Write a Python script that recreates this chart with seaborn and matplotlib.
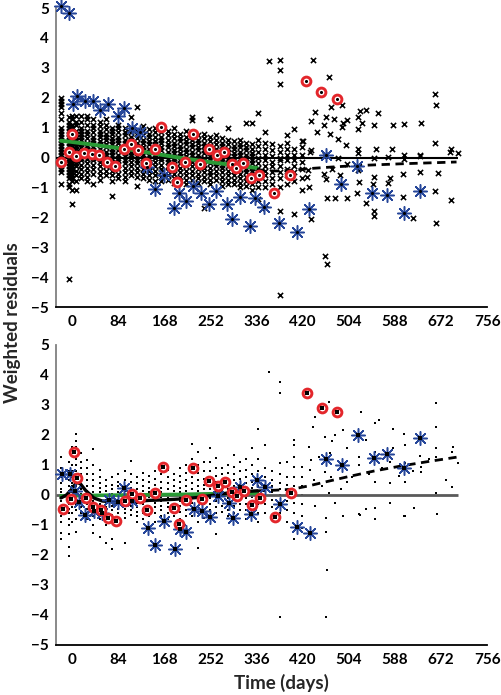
import pandas as pd
import seaborn as sns
import matplotlib
import matplotlib.pyplot as plt

sns.set_style('white')
matplotlib.rcParams['font.family'] = ['Lato', 'DejaVu Sans']
matplotlib.rcParams['font.weight'] = 'bold'
matplotlib.rcParams['font.size'] = 11

# ---- top panel: observations by visit column (days, residuals) ----
top_visit_days = [-19, -5, 1, 8, 17, 28, 39, 51, 62, 73, 84, 96, 107, 118, 129, 140, 151, 163,
                  174, 185, 196, 207, 218, 229, 240, 251, 262, 273, 284, 295, 306, 317, 328,
                  339, 352, 365, 378, 391, 404, 418]
top_visit_res = [
    "2.0 1.9 1.8 1.7 1.5 1.3 1.0 0.9 0.8 0.7 0.6 0.5 0.4 0.3 0.2 0.1 0.0 -0.1 -0.2 -0.3 -0.4 -0.5 -0.9",
    "1.35 1.2 1.1 1.0 0.9 0.8 0.7 0.6 0.5 0.4 0.3 0.2 0.1 0.0 -0.1 -0.2 -0.3 -0.4 -0.5 -0.6 -0.7 -0.9 -1.0 -4.05",
    "1.4 1.3 1.1 1.0 0.9 0.8 0.7 0.6 0.5 0.4 0.3 0.2 0.1 0.0 -0.1 -0.2 -0.3 -0.4 -0.5 -0.6 -0.7 -0.8 -1.1 -1.55",
    "1.4 1.2 1.1 0.9 0.8 0.7 0.6 0.5 0.4 0.3 0.2 0.1 0.0 -0.1 -0.2 -0.3 -0.45 -0.6 -0.8 -1.1",
    "1.4 1.2 1.0 0.9 0.8 0.7 0.6 0.45 0.35 0.2 0.1 0.0 -0.1 -0.25 -0.4 -0.55 -0.7",
    "1.4 1.3 1.1 0.9 0.8 0.65 0.5 0.4 0.3 0.2 0.05 -0.05 -0.2 -0.35 -0.5 -0.65 -0.8",
    "1.3 1.1 1.0 0.85 0.7 0.6 0.5 0.35 0.25 0.1 0.0 -0.1 -0.25 -0.4 -0.55 -0.9",
    "1.2 1.05 0.9 0.8 0.7 0.55 0.45 0.3 0.2 0.1 -0.05 -0.15 -0.3 -0.45 -0.6 -0.75",
    "1.3 1.1 0.95 0.8 0.7 0.6 0.45 0.35 0.2 0.1 0.0 -0.15 -0.3 -0.45 -0.6",
    "1.0 0.9 0.8 0.65 0.55 0.45 0.3 0.2 0.1 -0.05 -0.15 -0.3 -0.45 -0.6 -0.8 -1.3",
    "1.1 1.0 0.85 0.7 0.6 0.5 0.35 0.25 0.1 0.0 -0.1 -0.25 -0.4 -0.55 -0.7",
    "1.0 0.85 0.75 0.6 0.5 0.4 0.3 0.15 0.05 -0.1 -0.2 -0.35 -0.5 -0.65 -0.8",
    "1.35 1.0 0.85 0.7 0.6 0.45 0.35 0.2 0.1 0.0 -0.15 -0.3 -0.45 -0.6",
    "1.7 0.9 0.8 0.65 0.5 0.4 0.3 0.15 0.05 -0.1 -0.2 -0.35 -0.5 -0.65 -0.95",
    "1.05 0.9 0.75 0.6 0.5 0.35 0.25 0.1 0.0 -0.15 -0.25 -0.4 -0.55 -0.7",
    "0.95 0.8 0.7 0.55 0.45 0.3 0.2 0.1 -0.05 -0.15 -0.3 -0.45 -0.6 -0.75",
    "1.0 0.85 0.7 0.55 0.45 0.35 0.2 0.1 0.0 -0.15 -0.3 -0.45 -0.6 -0.8",
    "0.85 0.7 0.6 0.5 0.35 0.25 0.1 0.0 -0.1 -0.25 -0.4 -0.5 -0.65 -0.8",
    "0.9 0.75 0.6 0.45 0.35 0.2 0.1 -0.05 -0.15 -0.3 -0.45 -0.6 -0.75",
    "1.0 0.8 0.65 0.5 0.4 0.25 0.15 0.0 -0.1 -0.25 -0.4 -0.55 -0.7 -0.85",
    "0.8 0.65 0.55 0.4 0.3 0.15 0.05 -0.1 -0.2 -0.35 -0.5 -0.65 -0.8",
    "0.9 0.7 0.55 0.45 0.3 0.2 0.05 -0.05 -0.2 -0.3 -0.45 -0.6 -0.75 -0.9",
    "1.35 1.25 0.7 0.6 0.45 0.35 0.2 0.1 -0.05 -0.15 -0.3 -0.45 -0.6 -0.75",
    "0.75 0.6 0.5 0.35 0.25 0.1 0.0 -0.15 -0.25 -0.4 -0.55 -0.7 -0.85",
    "0.8 0.65 0.5 0.4 0.25 0.15 0.0 -0.1 -0.25 -0.35 -0.5 -0.65 -0.8 -1.7",
    "1.3 0.7 0.55 0.4 0.3 0.15 0.05 -0.1 -0.2 -0.35 -0.5 -0.6 -0.75 -0.9",
    "0.75 0.6 0.45 0.3 0.2 0.05 -0.05 -0.2 -0.3 -0.45 -0.6 -0.75",
    "0.65 0.5 0.4 0.25 0.15 0.0 -0.1 -0.25 -0.35 -0.5 -0.65 -0.8 -0.95",
    "1.0 0.6 0.45 0.3 0.2 0.05 -0.05 -0.2 -0.3 -0.45 -0.6 -0.75 -0.9",
    "0.55 0.4 0.3 0.15 0.05 -0.1 -0.2 -0.35 -0.45 -0.6 -0.75 -0.9",
    "0.6 0.45 0.35 0.2 0.1 -0.05 -0.15 -0.3 -0.4 -0.55 -0.7 -0.85 -1.0",
    "1.15 0.5 0.35 0.25 0.1 0.0 -0.15 -0.25 -0.4 -0.5 -0.65 -0.8 -0.95",
    "1.15 0.45 0.3 0.15 0.05 -0.1 -0.2 -0.35 -0.45 -0.6 -0.75 -0.9 -1.1",
    "1.5 0.6 0.4 0.2 0.0 -0.2 -0.35 -0.5 -0.65 -0.8 -1.0 -1.4",
    "0.85 0.5 0.3 0.1 -0.1 -0.3 -0.45 -0.6 -0.8 -1.0 -1.7",
    "0.45 0.25 0.05 -0.15 -0.3 -0.5 -0.7 -0.9",
    "3.25 2.93 2.45 0.4 0.2 0.0 -0.1 -0.3 -0.5 -0.7 -1.0 -1.8 -4.6",
    "0.75 0.5 0.3 0.1 -0.1 -0.4 -0.6 -0.9",
    "0.95 0.3 0.1 -0.1 -0.3 -0.5 -0.8 -1.9",
    "0.55 0.35 0.1 -0.15 -0.4 -0.7 -1.1",
]
# later, sparse observations
top_late_days = [358, 438, 468, 443, 471, 492, 525, 535, 557, 661, 662, 435, 463, 477, 493, 500,
                 520, 528, 549, 584, 605, 635, 446, 470, 485, 459, 491, 520, 420, 435, 499, 520,
                 554, 583, 605, 634, 661, 690, 702, 434, 461, 485, 520, 549, 576, 605, 634, 688,
                 428, 459, 473, 500, 520, 549, 578, 603, 667, 430, 463, 488, 548, 576, 634, 435,
                 464, 478, 500, 518, 535, 549, 549, 603, 620, 660, 663, 690, 461, 464, 432, 522]
top_late_res = [3.23, 3.27, 2.69, 1.53, 1.7, 1.75, 1.56, 1.6, 1.48, 2.13, 1.75, 1.23, 1.37, 1.28,
                1.14, 1.26, 1.35, 1.14, 1.1, 1.1, 1.12, 1.16, 0.85, 0.79, 0.61, 1.08, 1.02, 0.95,
                0.55, 0.25, 0.42, 0.27, 0.27, 0.3, 0.08, 0.05, 0.5, 0.27, 0.14, 0.2, 0.08, 0.0,
                0.15, -0.02, 0.03, -0.06, 0.08, 0.2, -0.65, -0.56, -0.37, -0.21, -0.43, -0.65,
                -0.7, -0.56, -0.51, -0.43, -0.73, -0.59, -0.87, -0.85, -0.48, -2.07, -1.37, -1.37,
                -1.35, -1.2, -1.51, -1.78, -1.96, -1.33, -2.01, -1.12, -2.18, -1.41, -3.3, -3.57,
                -0.98, -0.82]
top_red_days = [-19, -5, 1, 8, 22, 36, 50, 64, 78, 95, 107, 121, 135, 151, 163, 183, 192, 206,
                220, 234, 249, 264, 277, 292, 298, 312, 326, 341, 368, 397, 426, 453, 482]
top_red_res = [-0.15, 0.17, 0.79, 0.06, 0.14, 0.12, 0.08, -0.16, -0.27, 0.27, 0.45, 0.25, -0.18,
               0.27, 1.03, -0.31, -0.82, -0.15, 0.78, -0.22, 0.28, 0.09, 0.17, -0.22, -0.36,
               -0.2, -0.7, -0.57, -1.2, -0.59, 2.57, 2.2, 1.95]
top_blue_days = [-20, -5, 2, 10, 24, 39, 51, 65, 83, 95, 109, 123, 136, 151, 168, 185, 194, 207,
                 221, 235, 250, 263, 283, 292, 306, 324, 333, 349, 376, 409, 432, 463, 489, 518,
                 547, 573, 604, 634]
top_blue_res = [5.08, 4.83, 1.78, 2.06, 1.89, 1.89, 1.58, 1.79, 1.39, 1.65, 1.0, 0.84, -0.33,
                -1.04, -0.59, -1.7, -1.2, -1.45, -0.95, -1.2, -1.57, -1.12, -1.56, -2.07, -1.32,
                -2.3, -1.37, -1.67, -2.18, -2.5, -1.73, 0.07, -0.87, -0.29, -1.2, -1.26, -1.84,
                -1.12]
top_green_days = [-20, 0, 50, 100, 150, 200, 250, 300, 337]
top_green_res = [0.56, 0.52, 0.40, 0.28, 0.13, -0.02, -0.15, -0.27, -0.35]
top_dash_days = [337, 350, 380, 410, 440, 480, 520, 560, 600, 650, 700]
top_dash_res = [-0.38, -0.45, -0.45, -0.41, -0.36, -0.31, -0.27, -0.24, -0.21, -0.18, -0.15]

# ---- bottom panel ----
bot_visit_days = top_visit_days
bot_visit_res = [
    "1.28 0.9 0.6 0.4 0.2 0.1 0.0 -0.1 -0.2 -0.35 -0.5 -0.7 -0.9 -1.26 -1.48",
    "1.1 0.8 0.5 0.3 0.15 0.05 -0.05 -0.15 -0.3 -0.45 -0.6 -0.8 -1.0 -1.3 -1.72 -2.03",
    "1.6 1.3 1.0 0.8 0.6 0.4 0.3 0.2 0.1 0.0 -0.1 -0.25 -0.4 -0.6 -0.9",
    "2.03 1.81 1.61 1.4 1.2 1.0 0.8 0.6 0.45 0.3 0.15 0.0 -0.15 -0.3 -0.5 -0.8 -1.24",
    "1.4 1.1 0.9 0.7 0.5 0.35 0.2 0.05 -0.1 -0.25 -0.4 -0.6",
    "1.17 0.9 0.7 0.5 0.3 0.15 0.0 -0.15 -0.3 -0.45 -0.6 -0.8",
    "1.52 1.0 0.7 0.5 0.3 0.1 -0.05 -0.2 -0.35 -0.5 -0.7 -1.0 -1.26",
    "0.83 0.6 0.4 0.25 0.1 0.0 -0.15 -0.3 -0.45 -0.6 -0.8 -1.39",
    "0.5 0.3 0.15 0.0 -0.15 -0.3 -0.4 -0.55 -0.7 -1.0 -1.59",
    "0.6 0.35 0.2 0.05 -0.1 -0.2 -0.35 -0.5 -0.65 -0.8 -1.48 -1.81",
    "0.7 0.45 0.3 0.1 0.0 -0.15 -0.3 -0.45 -0.6 -0.8",
    "0.8 0.5 0.3 0.15 0.0 -0.15 -0.3 -0.45 -0.6 -0.75 -1.59",
    "1.14 0.7 0.45 0.25 0.1 -0.05 -0.2 -0.35 -0.5 -0.65",
    "0.6 0.4 0.2 0.05 -0.1 -0.25 -0.4 -0.55 -0.7 -0.9",
    "0.75 0.5 0.3 0.15 0.0 -0.15 -0.3 -0.45 -0.6 -0.8",
    "0.65 0.45 0.25 0.1 -0.05 -0.2 -0.35 -0.5 -0.7",
    "0.8 0.55 0.35 0.2 0.05 -0.1 -0.25 -0.4 -0.6 -0.9",
    "1.0 0.7 0.45 0.25 0.1 -0.05 -0.2 -0.35 -0.5 -0.7",
    "0.85 0.6 0.4 0.2 0.05 -0.1 -0.25 -0.4 -0.6 -0.8",
    "0.7 0.5 0.3 0.15 0.0 -0.15 -0.3 -0.5 -0.7",
    "0.9 0.65 0.45 0.25 0.1 -0.05 -0.2 -0.35 -0.55 -0.8",
    "1.0 0.75 0.5 0.3 0.15 0.0 -0.15 -0.3 -0.5 -0.7",
    "1.69 1.2 0.9 0.6 0.4 0.2 0.05 -0.1 -0.25 -0.45 -0.7",
    "1.44 1.0 0.75 0.5 0.3 0.15 0.0 -0.2 -0.4 -0.6 -0.9 -1.78",
    "1.1 0.8 0.55 0.35 0.2 0.05 -0.1 -0.3 -0.5 -0.75",
    "1.56 1.1 0.8 0.55 0.35 0.2 0.05 -0.1 -0.3 -0.5",
    "1.22 0.9 0.65 0.45 0.25 0.1 -0.05 -0.2 -0.4 -0.6 -1.31",
    "0.9 0.7 0.5 0.3 0.15 0.0 -0.15 -0.35 -0.55",
    "1.0 0.75 0.55 0.35 0.2 0.05 -0.1 -0.3 -0.5 -0.7",
    "1.33 0.95 0.7 0.5 0.3 0.15 0.0 -0.15 -0.35 -0.6",
    "1.1 0.8 0.55 0.35 0.2 0.05 -0.1 -0.3 -0.5",
    "1.19 0.85 0.6 0.4 0.2 0.05 -0.1 -0.3 -0.5 -0.8",
    "1.56 1.0 0.7 0.45 0.25 0.1 -0.05 -0.25 -0.45 -0.7",
    "2.19 1.2 0.8 0.5 0.3 0.1 -0.1 -0.3 -0.6 -0.9",
    "1.67 0.9 0.6 0.35 0.15 -0.05 -0.3 -0.6",
    "0.8 0.5 0.3 0.1 -0.15 -0.4 -0.8",
    "3.78 3.39 1.06 0.7 0.4 0.2 0.0 -0.3 -0.6 -4.08",
    "1.11 0.6 0.35 0.1 -0.2 -0.5 -0.9",
    "1.83 1.67 1.28 0.94 0.6 0.3 0.05 -0.25 -0.6 -1.48",
    "0.94 0.6 0.3 0.0 -0.3 -0.7 -1.1",
]
bot_late_days = [359, 468, 443, 438, 526, 551, 558, 662, 663, 584, 605, 432, 460, 473, 479, 493,
                 500, 536, 585, 607, 662, 694, 703, 692, 663, 633, 607, 579, 551, 523, 470, 449,
                 435, 433, 460, 471, 500, 523, 551, 579, 607, 635, 635, 662, 691, 468, 500, 443,
                 463, 479, 494, 523, 536, 551, 551, 579, 607, 622, 664, 463, 463, 465, 525, 605,
                 440, 455, 490, 510, 540, 565, 595, 620, 650, 680]
bot_late_res = [4.11, 3.11, 2.61, 2.28, 2.78, 2.41, 2.5, 3.08, 2.28, 2.19, 2.02, 1.59, 1.92, 1.8,
                2.0, 2.17, 1.56, 1.83, 1.56, 1.67, 1.56, 1.59, 1.08, 1.44, 1.28, 1.3, 1.08, 1.11,
                1.44, 1.28, 1.39, 1.28, 1.17, 0.83, 0.78, 0.61, 0.83, 1.0, 0.44, 0.39, 0.44, 0.94,
                0.78, 0.06, 0.28, 0.08, 0.44, -0.37, -0.78, -0.28, -0.69, -0.64, -0.48, -0.44,
                -0.81, -0.26, -0.7, -0.44, -0.63, -1.22, -4.08, -2.5, -0.67, -0.69, 0.5, 0.3,
                0.2, 0.6, 0.7, 0.9, 0.65, 0.8, 1.2, 0.5]
bot_red_days = [-17, -2, 4, 10, 25, 39, 52, 66, 81, 97, 109, 123, 137, 152, 165, 185, 194, 208,
                221, 236, 250, 265, 279, 292, 301, 314, 327, 342, 370, 398, 427, 455, 483]
bot_red_res = [-0.45, -0.14, 1.44, 0.58, -0.09, -0.39, -0.49, -0.78, -0.86, -0.19, 0.04, -0.09,
               -0.5, 0.06, 0.92, -0.44, -0.97, -0.18, 0.89, -0.14, 0.47, 0.31, 0.44, 0.09, -0.02,
               0.14, -0.33, -0.11, -0.72, 0.06, 3.41, 2.89, 2.78]
bot_blue_days = [-18, -3, 5, 12, 24, 40, 54, 68, 83, 95, 110, 138, 152, 168, 188, 197, 207, 223,
                 237, 251, 265, 285, 293, 306, 326, 336, 352, 378, 410, 434, 462, 491, 520, 549,
                 574, 605, 634]
bot_blue_res = [0.7, 0.7, 0.12, -0.24, -0.67, -0.52, -0.59, -0.16, -0.22, 0.24, -0.19, -1.1,
                -1.67, -0.87, -1.8, -1.14, -1.22, -0.46, -0.54, -0.73, -0.04, -0.28, -0.76, 0.28,
                -0.62, 0.51, 0.27, -0.29, -1.06, -1.28, 1.2, 1.01, 2.0, 1.22, 1.36, 0.89, 1.89]
bot_green_days = [-20, 50, 100, 150, 200, 250, 300, 337]
bot_green_res = [-0.03, -0.01, 0.0, 0.01, 0.02, 0.04, 0.05, 0.06]
bot_smooth_days = [-20, -10, 0, 8, 15, 25, 40, 55, 80, 110, 140, 170, 200, 230, 260, 290, 320, 337]
bot_smooth_res = [-0.1, 0.0, 0.2, 0.42, 0.38, 0.15, -0.1, -0.2, -0.24, -0.22, -0.18, -0.16,
                  -0.13, -0.08, 0.0, 0.08, 0.12, 0.14]
bot_dash_days = [337, 370, 400, 430, 460, 500, 550, 600, 650, 700]
bot_dash_res = [0.14, 0.16, 0.19, 0.3, 0.43, 0.6, 0.8, 0.97, 1.12, 1.26]

x_ticks = [0, 84, 168, 252, 336, 420, 504, 588, 672, 756]
y_ticks = [-5, -4, -3, -2, -1, 0, 1, 2, 3, 4, 5]

RED = '#e3262b'
BLUE = '#27479a'
GREEN = '#2a9a36'


def obs_frame(col_days, col_res, late_days, late_res):
    rows = []
    for d, s in zip(col_days, col_res):
        for v in s.split():
            rows.append((d, float(v)))
    rows += list(zip(late_days, late_res))
    return pd.DataFrame(rows, columns=['day', 'res'])


def style_axes(ax):
    ax.set_xlim(-29, 756)
    ax.set_ylim(-5, 5)
    ax.set_xticks(x_ticks)
    ax.set_yticks(y_ticks)
    ax.set_xlabel('')
    ax.set_ylabel('')
    for s in ['top', 'right']:
        ax.spines[s].set_visible(False)
    ax.spines['left'].set_color('#808080')
    ax.spines['left'].set_linewidth(1.3)
    ax.spines['bottom'].set_color('black')
    ax.spines['bottom'].set_linewidth(1.3)
    ax.tick_params(axis='x', direction='in', length=6, width=1.2, colors='black', labelsize=11, pad=6)
    ax.tick_params(axis='y', direction='in', length=6, width=1.2, color='#808080', labelcolor='black',
                   labelsize=11, pad=5)


def highlight(ax, rd, rr, bd, br, centre):
    # blue asterisks and red rings for the two highlighted subjects
    sns.scatterplot(x=bd, y=br, marker=(8, 2, 0), color=BLUE, s=95, linewidth=1.1, ax=ax,
                    zorder=5, clip_on=False)
    sns.scatterplot(x=rd, y=rr, marker='o', color='white', edgecolor=RED, s=40, linewidth=2.1,
                    ax=ax, zorder=6, clip_on=False)
    sns.scatterplot(x=rd + bd, y=rr + br, marker=centre, color='black', s=5, linewidth=0,
                    ax=ax, zorder=7, clip_on=False)


fig = plt.figure(figsize=(5.02, 6.95), dpi=100)
ax1 = fig.add_axes([56 / 502, 1 - 307 / 695, 431.3 / 502, 299 / 695])
ax2 = fig.add_axes([56 / 502, 1 - 645 / 695, 431.3 / 502, 300 / 695])

# top panel
top_obs = obs_frame(top_visit_days, top_visit_res, top_late_days, top_late_res)
sns.scatterplot(data=top_obs, x='day', y='res', marker='x', color='black', s=14, linewidth=1.15, ax=ax1, zorder=2)
ax1.hlines(0, -29, top_obs.day.max(), color='black', lw=1.5, zorder=3)
sns.lineplot(x=top_green_days, y=top_green_res, color=GREEN, lw=2.8, ax=ax1, sort=False, estimator=None, zorder=4)
sns.lineplot(x=top_dash_days, y=top_dash_res, color='black', lw=2, linestyle=(0, (3, 2)), ax=ax1,
             sort=False, estimator=None, zorder=4)
highlight(ax1, top_red_days, top_red_res, top_blue_days, top_blue_res, 'o')
style_axes(ax1)

# bottom panel
bot_obs = obs_frame(bot_visit_days, bot_visit_res, bot_late_days, bot_late_res)
sns.scatterplot(data=bot_obs, x='day', y='res', marker='s', color='black', s=3, linewidth=0, ax=ax2, zorder=2)
ax2.hlines(0, -29, bot_obs.day.max(), color='#5a5a5a', lw=2, zorder=3)
sns.lineplot(x=bot_green_days, y=bot_green_res, color=GREEN, lw=2.6, ax=ax2, sort=False, estimator=None, zorder=4)
sns.lineplot(x=bot_smooth_days, y=bot_smooth_res, color='black', lw=2.4, ax=ax2, sort=False, estimator=None, zorder=4)
sns.lineplot(x=bot_dash_days, y=bot_dash_res, color='black', lw=2, linestyle=(0, (3, 2)), ax=ax2,
             sort=False, estimator=None, zorder=4)
highlight(ax2, bot_red_days, bot_red_res, bot_blue_days, bot_blue_res, 's')
style_axes(ax2)

fig.text(13 / 502, 1 - 323 / 695, 'Weighted residuals', rotation=90, ha='center', va='center',
         fontsize=13.5, fontweight='bold')
fig.text(281 / 502, 1 - 683 / 695, 'Time (days)', ha='center', va='center', fontsize=13.5, fontweight='bold')

plt.savefig('out.png', dpi=100)
